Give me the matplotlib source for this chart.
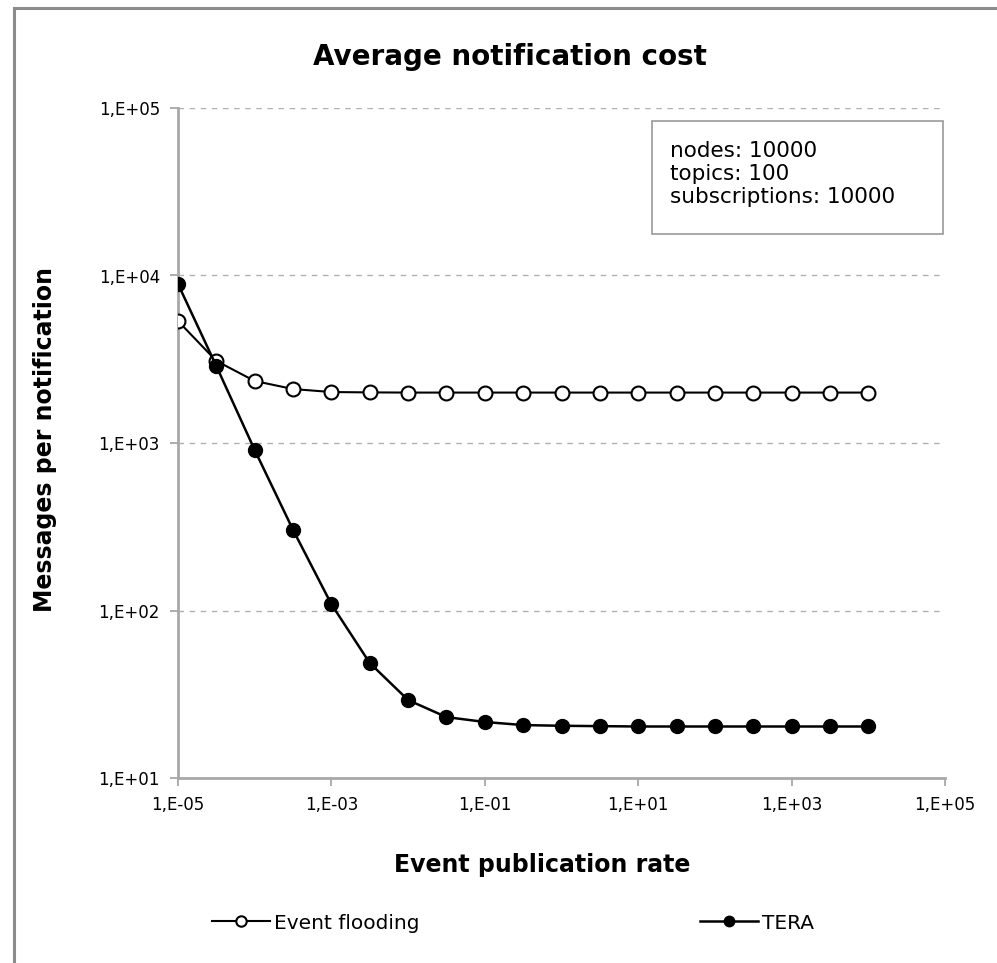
import matplotlib
matplotlib.use('Agg')
import matplotlib.pyplot as plt
from matplotlib.patches import Rectangle
from matplotlib.ticker import FixedLocator, FuncFormatter, NullLocator
import numpy as np

# event publication rate, half-decade steps 1e-5 .. 1e4
rate=[1e-5,3.16e-5,1e-4,3.16e-4,1e-3,3.16e-3,1e-2,3.16e-2,1e-1,3.16e-1,
      1e0,3.16e0,1e1,3.16e1,1e2,3.16e2,1e3,3.16e3,1e4]
flooding=[5350,3090,2345,2100,2015,2005,2000,2000,2000,2000,
          2000,2000,2000,2000,2000,2000,2000,2000,2000]
tera=[8900,2880,908,303,109,48.6,29.2,23.1,21.6,20.7,
      20.5,20.4,20.3,20.3,20.3,20.3,20.3,20.3,20.3]
x_ticks=[1e-5,1e-3,1e-1,1e1,1e3,1e5]
y_ticks=[1e1,1e2,1e3,1e4,1e5]
info='nodes: 10000\ntopics: 100\nsubscriptions: 10000'

def excel_fmt(v,pos=None):
    e=int(round(np.log10(v)))
    return f"1,E{'+' if e>=0 else '-'}{abs(e):02d}"

plt.rcParams.update({'font.family':['DejaVu Sans']})
W,H=997,963
fig=plt.figure(figsize=(W/100,H/100),dpi=100)
fig.patches.append(Rectangle((14/W,-0.05),1.1,1-8/H+0.05,transform=fig.transFigure,
                             fill=False,ec='#8c8c8c',lw=2.2))
ax=fig.add_axes([178/W,1-778/H,(945-178)/W,(778-108)/H])
ax.set_xscale('log'); ax.set_yscale('log')
ax.set_xlim(1e-5,1e5); ax.set_ylim(1e1,1e5)

for yv in y_ticks[1:]:
    ax.axhline(yv,color='#b0b0b0',lw=1.0,ls=(0,(4,4)),zorder=0)

ax.plot(rate,flooding,'-o',color='black',lw=1.5,ms=10,mfc='white',mec='black',mew=1.5,
        label='Event flooding',zorder=3)
ax.plot(rate,tera,'-o',color='black',lw=1.8,ms=10,mfc='black',mec='black',
        label='TERA',zorder=4)

ax.xaxis.set_major_locator(FixedLocator(x_ticks))
ax.yaxis.set_major_locator(FixedLocator(y_ticks))
ax.xaxis.set_minor_locator(NullLocator()); ax.yaxis.set_minor_locator(NullLocator())
ax.xaxis.set_major_formatter(FuncFormatter(excel_fmt))
ax.yaxis.set_major_formatter(FuncFormatter(excel_fmt))
ax.tick_params(axis='both',labelsize=12,length=6,width=1.2,color='#a0a0a0',pad=7)
for s in ['top','right']: ax.spines[s].set_visible(False)
for s in ['left','bottom']:
    ax.spines[s].set_color('#a8a8a8'); ax.spines[s].set_linewidth(2)

fig.text(510/W,1-57/H,'Average notification cost',fontsize=20,fontweight='bold',ha='center',va='center')
fig.text(542/W,1-865/H,'Event publication rate',fontsize=17,fontweight='bold',ha='center',va='center')
fig.text(45/W,1-440/H,'Messages per notification',fontsize=17,fontweight='bold',ha='center',
         va='center',rotation=90)

ax.text((670-178)/(945-178),(778-141)/(778-108),info,transform=ax.transAxes,fontsize=15.5,
        va='top',ha='left',linespacing=1.2)
ax.add_patch(Rectangle(((652-178)/(945-178),(778-234)/(778-108)),(943-652)/(945-178),
                       (234-121)/(778-108),transform=ax.transAxes,fill=False,ec='#999999',
                       lw=1.2,clip_on=False))

fig.legend(loc='center left',bbox_to_anchor=(212/W,1-923/H),ncol=2,frameon=False,
           fontsize=14.5,columnspacing=13.9,handlelength=2.9,handletextpad=0.2,markerscale=0.75,
           borderpad=0,borderaxespad=0)
fig.savefig('out.png',dpi=100)
